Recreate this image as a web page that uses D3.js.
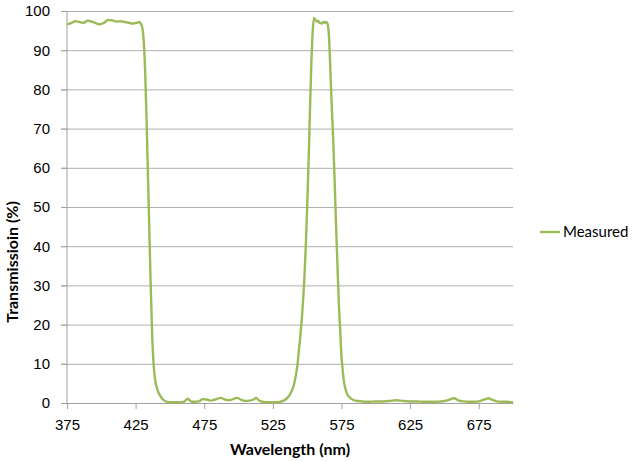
<!DOCTYPE html>
<html>
<head>
<meta charset="utf-8">
<script src="https://cdn.jsdelivr.net/npm/d3@7"></script>
<style>
  body { margin: 0; background: #fff; }
  svg { display: block; font-family: Lato, "Open Sans", sans-serif; }
  .grid line { stroke: #b0b0b0; stroke-width: 1; }
  .grid path { display: none; }
  .axis path, .axis line { stroke: #a0a0a0; }
  .axis text { fill: #000; font-size: 15px; }
  .title { font-size: 16px; font-weight: bold; fill: #000; }
</style>
</head>
<body>
<svg width="636" height="461"></svg>
<script>
// wavelength (nm)
const wavelengths = [
  375, 378, 381, 384, 387, 390, 393, 396, 399, 402, 405, 408, 411, 414, 417, 420, 423, 426, 428,
  429, 430, 431, 432, 433, 434, 435, 436, 437, 438, 439, 440, 441, 442, 444, 446, 448,
  452, 456, 460, 463, 465, 468, 471, 474, 477, 480, 483, 487, 490, 493, 496, 499, 502, 505,
  508, 511, 513, 515, 518, 522, 526, 530, 533, 536, 538, 540, 542, 543, 544, 545, 546, 547,
  548, 549, 550, 551, 552, 553, 554, 555, 556, 557, 558, 559, 560, 561, 562, 563, 564, 565,
  566, 567, 568, 569, 570, 571, 572, 573, 574, 575, 576, 577, 578, 579, 581, 583, 585,
  590, 595, 600, 605, 610, 615, 620, 625, 630, 635, 640, 645, 650, 654, 657, 660, 664, 668,
  672, 676, 680, 682, 685, 688, 692, 696, 700
];
// transmission (%)
const measured = [
  96.6, 96.9, 97.4, 97.2, 97.0, 97.5, 97.3, 96.9, 96.6, 97.0, 97.7, 97.6, 97.3, 97.4, 97.2, 97.0, 96.8, 97.0, 97.2,
  96.6, 95.5, 92, 84, 72, 58, 44, 30, 18, 10.5, 6.5, 4.5, 3.3, 2.4, 1.3, 0.6, 0.3,
  0.2, 0.2, 0.3, 1.1, 0.5, 0.3, 0.4, 1.0, 0.9, 0.6, 0.9, 1.3, 0.9, 0.7, 1.0, 1.3, 0.8, 0.5,
  0.6, 0.9, 1.3, 0.6, 0.3, 0.2, 0.2, 0.3, 0.6, 1.5, 2.5, 4.2, 7.5, 10, 13.5, 17, 21, 26,
  32, 40, 50, 61, 74, 86, 94.5, 98.2, 97.8, 97.3, 97.5, 97.0, 96.9, 96.8, 97.3, 97.0, 97.2, 96.6,
  93, 84, 75, 67, 57, 46, 36, 26, 19, 12, 8, 5, 3.5, 2.4, 1.4, 0.9, 0.6,
  0.4, 0.3, 0.4, 0.4, 0.5, 0.7, 0.5, 0.4, 0.4, 0.3, 0.3, 0.3, 0.5, 0.9, 1.2, 0.7, 0.4, 0.3,
  0.3, 0.5, 1.0, 1.2, 0.8, 0.4, 0.3, 0.3, 0.2
];
const xTicks = [375, 425, 475, 525, 575, 625, 675];
const yTicks = [0, 10, 20, 30, 40, 50, 60, 70, 80, 90, 100];
const seriesName = "Measured";

const svg = d3.select("svg");
const plotLeft = 67, plotRight = 513, plotTop = 11, plotBottom = 403;
const green = "#9bbb59";

const x = d3.scaleLinear().domain([375, 700]).range([plotLeft, plotRight]);
const y = d3.scaleLinear().domain([0, 100]).range([plotBottom, plotTop]);

// horizontal gridlines (extend out as ticks)
svg.append("g")
  .attr("class", "grid")
  .attr("transform", `translate(${plotLeft},0)`)
  .call(d3.axisLeft(y).tickValues(yTicks).tickSize(-(plotRight - plotLeft)).tickFormat(""))
  .selectAll("line").attr("x1", -6).attr("x2", plotRight - plotLeft);

// y axis
const yAxis = svg.append("g")
  .attr("class", "axis")
  .attr("transform", `translate(${plotLeft},0)`)
  .call(d3.axisLeft(y).tickValues(yTicks).tickSize(6).tickSizeOuter(0).tickPadding(11));
yAxis.select(".domain").attr("d", `M0,${plotTop}V${plotBottom}`);

// x axis
svg.append("g")
  .attr("class", "axis")
  .attr("transform", `translate(0,${plotBottom})`)
  .call(d3.axisBottom(x).tickValues(xTicks).tickSize(6).tickSizeOuter(0).tickPadding(10).tickFormat(d3.format("d")));

const line = d3.line()
  .x((d, i) => x(wavelengths[i]))
  .y(d => y(d))
  .curve(d3.curveMonotoneX);

svg.append("path")
  .datum(measured)
  .attr("fill", "none")
  .attr("stroke", green)
  .attr("stroke-width", 2.4)
  .attr("stroke-linejoin", "round")
  .attr("d", line);

svg.append("text")
  .attr("class", "title")
  .attr("x", (plotLeft + plotRight) / 2)
  .attr("y", 455)
  .attr("text-anchor", "middle")
  .text("Wavelength (nm)");

svg.append("text")
  .attr("class", "title")
  .attr("transform", "translate(18,262) rotate(-90)")
  .attr("text-anchor", "middle")
  .text("Transmissioin (%)");

// legend
const legend = svg.append("g").attr("transform", "translate(540,232)");
legend.append("line")
  .attr("x1", 0).attr("x2", 20)
  .attr("stroke", green).attr("stroke-width", 2.4);
legend.append("text")
  .attr("x", 23).attr("y", 5)
  .attr("font-size", 15)
  .text(seriesName);
</script>
</body>
</html>
